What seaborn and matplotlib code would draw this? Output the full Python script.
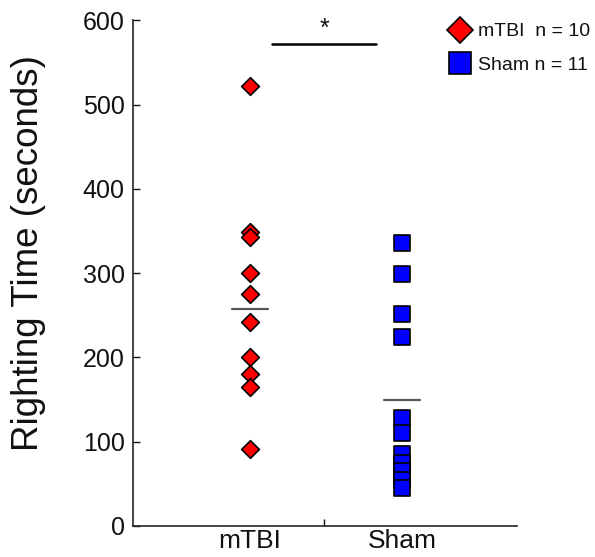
import pandas as pd
import matplotlib
matplotlib.use("Agg")
import matplotlib.pyplot as plt
import seaborn as sns
from matplotlib.lines import Line2D

# Data
groups = ["mTBI", "Sham"]
mtbi_times = [522, 349, 343, 300, 275, 242, 200, 180, 165, 91]
sham_times = [336, 299, 251, 224, 128, 110, 85, 75, 65, 55, 45]
mean_lines = [258, 150]
legend_labels = ["mTBI  n = 10", "Sham n = 11"]

df_mtbi = pd.DataFrame({"Group": "mTBI", "Time": mtbi_times})
df_sham = pd.DataFrame({"Group": "Sham", "Time": sham_times})

sns.set_style("ticks")
plt.rcParams["font.family"] = ["Liberation Sans", "DejaVu Sans"]
plt.rcParams["text.color"] = "#111111"
plt.rcParams["xtick.color"] = "#111111"
plt.rcParams["ytick.color"] = "#111111"
plt.rcParams["axes.labelcolor"] = "#111111"

fig = plt.figure(figsize=(5.95, 5.57), dpi=100)
ax = fig.add_axes([0.2235, 0.0557, 0.6455, 0.908])

sns.stripplot(data=df_mtbi, x="Group", y="Time", order=groups, jitter=False,
              marker="D", s=9, color="#ff0000", edgecolor="black", linewidth=1.2, ax=ax)
sns.stripplot(data=df_sham, x="Group", y="Time", order=groups, jitter=False,
              marker="s", s=11.5, color="#0000ff", edgecolor="black", linewidth=1.2, ax=ax)

# group mean lines
for i, m in enumerate(mean_lines):
    ax.plot([i - 0.12, i + 0.12], [m, m], color="#555555", lw=1.6, zorder=1)

# significance bar
ax.plot([0.145, 0.83], [572, 572], color="black", lw=1.8, clip_on=False)
ax.text(0.4875, 590, "*", ha="center", va="center", fontsize=18)

ax.set_xlim(-0.77, 1.757)
ax.set_ylim(0, 600)
ax.set_yticks([0, 100, 200, 300, 400, 500, 600])
ax.tick_params(axis="y", direction="in", length=5, labelsize=18, width=1, pad=6)
ax.set_xticks([0, 1])
ax.set_xticklabels(groups, fontsize=19)
ax.tick_params(axis="x", length=0, pad=2.5)
ax.set_xticks([0.4875], minor=True)
ax.tick_params(axis="x", which="minor", direction="in", length=5, width=1)
ax.set_xlabel("")
ax.set_ylabel("Righting Time (seconds)", fontsize=26.5)
ax.yaxis.set_label_coords(-0.226, 0.54)
sns.despine(ax=ax)
for sp in ["left", "bottom"]:
    ax.spines[sp].set_linewidth(1.2)

handles = [
    Line2D([], [], marker="D", ls="", markersize=13, markerfacecolor="#ff0000",
           markeredgecolor="black", markeredgewidth=1.2),
    Line2D([], [], marker="s", ls="", markersize=15.5, markerfacecolor="#0000ff",
           markeredgecolor="black", markeredgewidth=1.2),
]
fig.legend(handles, legend_labels, loc="upper right",
           bbox_to_anchor=(598 / 595, 1 - 15 / 557), borderaxespad=0,
           frameon=False, fontsize=14, labelspacing=0.8, handletextpad=0.3,
           handlelength=1.3)

fig.savefig("out.png", dpi=100)
